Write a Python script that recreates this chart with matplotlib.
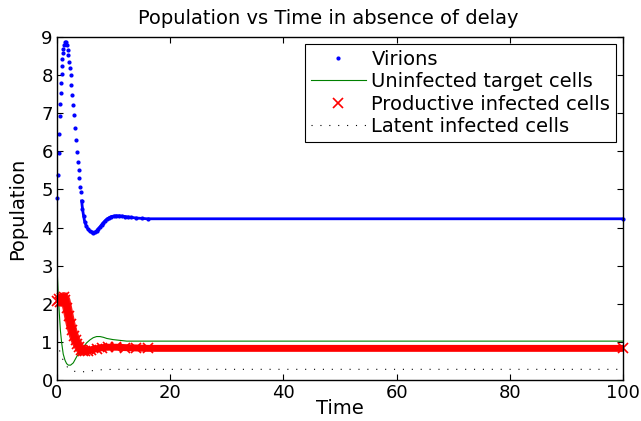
import matplotlib
matplotlib.use('Agg')
import matplotlib.pyplot as plt

plt.rcParams['font.family'] = ['DejaVu Sans']

# virions (blue dots)
t_vir = [0, 0.12, 0.3, 0.41, 0.53, 0.6, 0.7, 0.76, 0.82, 0.88, 0.94, 1.0, 1.1, 1.2,
         1.4, 1.6, 1.7, 1.9, 2.0, 2.12, 2.24, 2.4, 2.52, 2.7, 2.82, 3.0, 3.23, 3.4,
         3.53, 3.7, 3.83, 3.93, 4.06, 4.18, 4.35, 4.5, 4.7, 4.9, 5.2, 5.5, 5.8, 6.1,
         6.4, 6.7, 7.0, 7.3, 7.6, 7.9, 8.2, 8.5, 8.8, 9.2, 9.6, 10.0, 10.5, 11.0,
         11.5, 12.0, 12.5, 13.0, 14.0, 15.0, 16.0, 100]
v_vir = [4.77, 5.38, 5.95, 6.46, 6.93, 7.24, 7.54, 7.80, 8.03, 8.24, 8.42, 8.57, 8.69,
         8.79, 8.86, 8.88, 8.79, 8.66, 8.53, 8.35, 8.18, 8.0, 7.74, 7.48, 7.22, 6.96,
         6.61, 6.30, 5.99, 5.73, 5.51, 5.29, 5.07, 4.92, 4.7, 4.5, 4.3, 4.15, 4.03,
         3.95, 3.9, 3.88, 3.87, 3.88, 3.92, 3.97, 4.02, 4.08, 4.13, 4.18, 4.22, 4.26,
         4.29, 4.30, 4.31, 4.31, 4.30, 4.29, 4.28, 4.27, 4.25, 4.24, 4.23, 4.23]

# uninfected target cells (green line)
t_unf = [0, 0.2, 0.41, 0.6, 0.82, 1.1, 1.41, 1.7, 2.0, 2.4, 2.88, 3.47, 4.06, 4.65,
         5.2, 5.8, 6.4, 7.0, 7.6, 8.2, 8.8, 9.9, 10.5, 12.3, 14, 100]
v_unf = [3.0, 2.3, 1.75, 1.3, 0.98, 0.68, 0.52, 0.43, 0.39, 0.39, 0.45, 0.61, 0.74, 0.86,
         0.97, 1.05, 1.11, 1.14, 1.14, 1.12, 1.09, 1.06, 1.05, 1.02, 1.02, 1.02]

# productive infected cells (red x)
t_prod = [0, 0.3, 0.6, 0.9, 1.2, 1.5, 1.8, 2.1, 2.4, 2.7, 3.0, 3.3, 3.6, 3.9, 4.2,
          4.6, 5.0, 5.5, 6.0, 7.0, 8.0, 9.0, 10.5, 12, 14, 16, 100]
v_prod = [2.08, 2.12, 2.05, 2.15, 2.18, 2.1, 1.9, 1.68, 1.47, 1.3, 1.16, 1.04, 0.95,
          0.87, 0.8, 0.77, 0.76, 0.77, 0.79, 0.82, 0.85, 0.86, 0.86, 0.85, 0.84, 0.83, 0.83]

# latent infected cells (black dotted)
t_lat = [0, 0.3, 0.6, 1.0, 1.5, 2.0, 2.5, 3.0, 4.0, 5.0, 6.0, 7.0, 8.0, 10, 12, 100]
v_lat = [1.0, 0.85, 0.7, 0.55, 0.4, 0.31, 0.26, 0.23, 0.21, 0.22, 0.24, 0.26, 0.27,
         0.28, 0.28, 0.28]

fig = plt.figure(figsize=(6.41, 4.21), dpi=100)
ax = fig.add_axes([57/641, 41/421, 566/641, 343/421])

ax.plot(t_vir, v_vir, '.', color='b', markersize=4, label='Virions', clip_on=False)
ax.plot(t_vir[34:], v_vir[34:], '-', color='b', lw=2)
ax.plot(t_unf, v_unf, '-', color='#008000', lw=0.8, label='Uninfected target cells')
ax.plot(t_prod[:17], v_prod[:17], '-', color='r', lw=7, solid_capstyle='butt', alpha=0.9)
ax.plot(t_prod, v_prod, '-', color='r', lw=5, solid_capstyle='butt')
ax.plot(t_prod, v_prod, 'x', color='r', markersize=7, mew=1.2,
        label='Productive infected cells', clip_on=False)
ax.plot(t_lat, v_lat, color='k', lw=0.8, linestyle=(0, (1, 7)),
        label='Latent infected cells')

ax.set_xlim(0, 100)
ax.set_ylim(0, 9)
ax.set_xticks([0, 20, 40, 60, 80, 100])
ax.set_yticks(range(10))
ax.tick_params(direction='in', top=True, right=True, length=4, labelsize=13, pad=3)
for s in ax.spines.values():
    s.set_linewidth(1)

ax.set_title('Population vs Time in absence of delay', fontsize=14, pad=9, x=0.48)
ax.set_xlabel('Time', fontsize=14, labelpad=-2)
ax.set_ylabel('Population', fontsize=14, labelpad=10)

leg = ax.legend(loc='upper right', fontsize=14, numpoints=1, handlelength=2.8,
                handletextpad=0.3, labelspacing=0.18, borderaxespad=0.35,
                borderpad=0.3, fancybox=False, framealpha=1, edgecolor='k')
leg.get_frame().set_linewidth(0.8)

fig.savefig('out.png', dpi=100)
